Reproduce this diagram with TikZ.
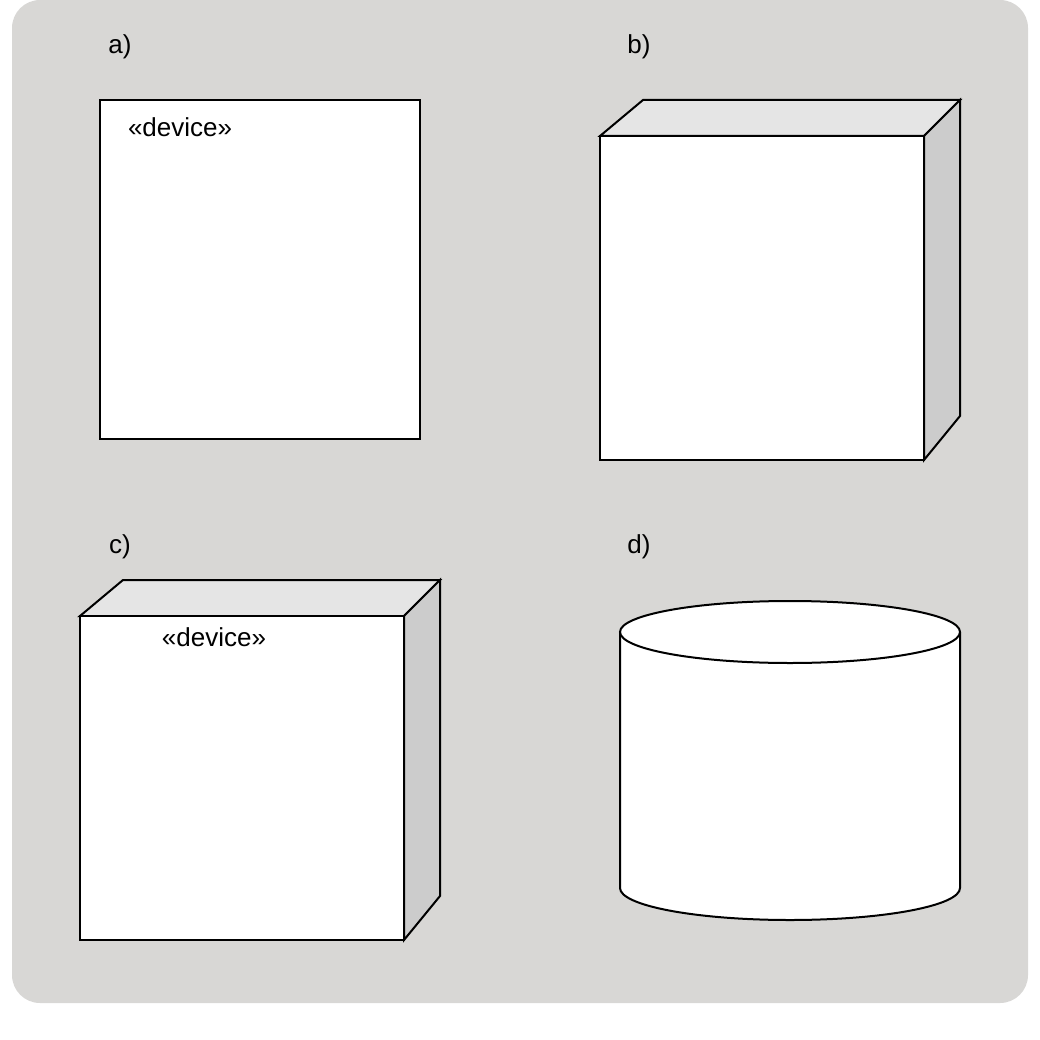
\documentclass[tikz,border=0pt]{standalone}
\usepackage{fontspec}
\setmainfont{Liberation Sans}
\usetikzlibrary{positioning}
\definecolor{panelgray}{HTML}{D8D7D5}
\definecolor{topface}{HTML}{E5E5E5}
\definecolor{sideface}{HTML}{CCCCCC}

\begin{document}
\begin{tikzpicture}[x=1pt, y=-1pt, line width=2pt, line join=miter,
    every node/.style={font=\fontsize{26}{30}\selectfont, inner sep=0pt},
    front/.style={draw=black, fill=white},
    lid/.style={draw=black, fill=topface},
    flank/.style={draw=black, fill=sideface}]
  \useasboundingbox (0,0) rectangle (1040,1040);
  \fill[panelgray, rounded corners=28pt] (12,0) rectangle (1028,1003);

  % a) plain device box
  \node (capa) at (120,47) {a)};
  \draw[front] (100,100) rectangle (420,439);
  \node (stera) [anchor=west] at (127,127) {«device»};

  % b) node cube
  \node (capb) at (639,47) {b)};
  \draw[lid] (600,136) -- (643,100) -- (960,100) -- (924,136) -- cycle;
  \draw[flank] (924,136) -- (960,100) -- (960,416) -- (924,460) -- cycle;
  \draw[front] (600,136) rectangle (924,460);

  % c) cube with stereotype
  \node (capc) at (120,547) {c)};
  \draw[lid] (80,616) -- (123,580) -- (440,580) -- (404,616) -- cycle;
  \draw[flank] (404,616) -- (440,580) -- (440,896) -- (404,940) -- cycle;
  \draw[front] (80,616) rectangle (404,940);
  \node (sterc) at (214,637) {«device»};

  % d) cylinder
  \node (capd) at (639,547) {d)};
  \fill[white] (620,632) rectangle (960,888);
  \fill[white] (790,888) ellipse [x radius=170, y radius=32];
  \draw (620,632) -- (620,888) arc[start angle=180, end angle=0, x radius=170, y radius=32] -- (960,632);
  \draw[front] (790,632) ellipse [x radius=170, y radius=31];
\end{tikzpicture}
\end{document}
